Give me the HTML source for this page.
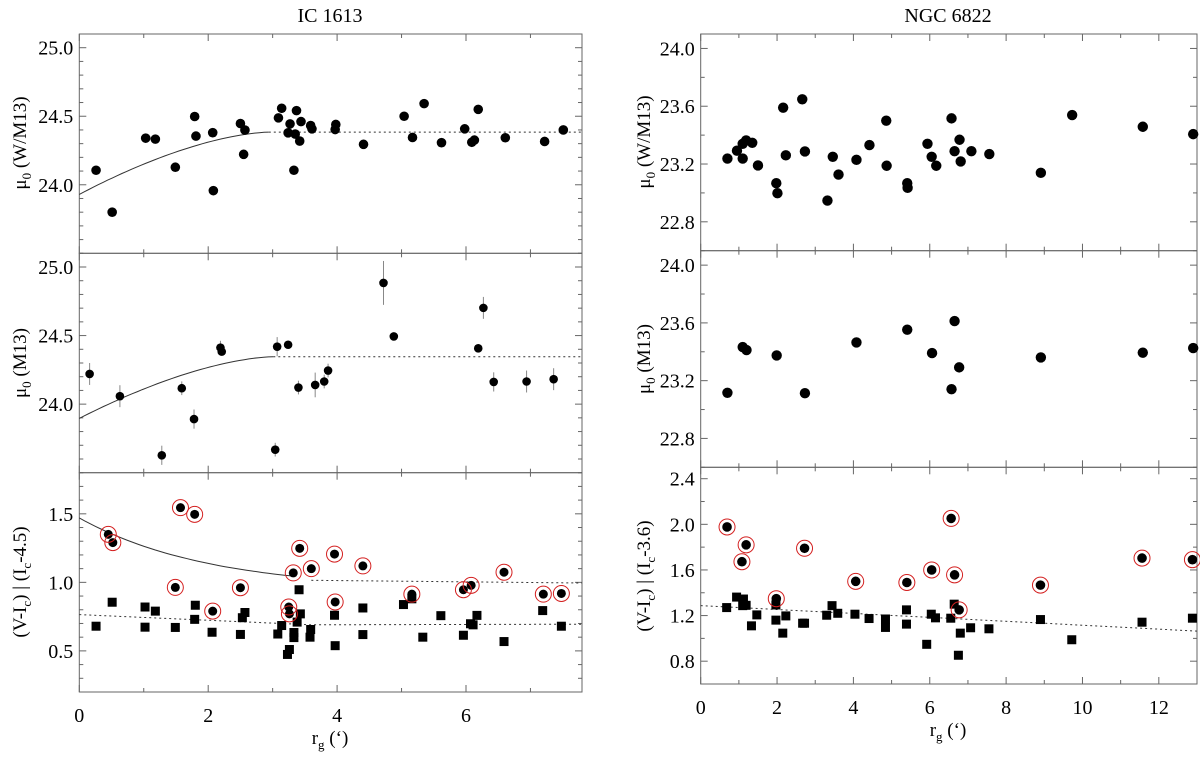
<!DOCTYPE html>
<html><head><meta charset="utf-8"><style>
html,body{margin:0;padding:0;background:#fff}
svg, svg text{font-family:"Liberation Serif","DejaVu Serif",serif}
</style></head><body>
<svg id="fig" width="1200" height="753" viewBox="0 0 1200 753" xmlns="http://www.w3.org/2000/svg" font-family="Liberation Serif, serif">
<text x="330" y="22" font-size="20" text-anchor="middle" font-family="Liberation Serif, serif">IC 1613</text>
<text x="948" y="22" font-size="20" text-anchor="middle" font-family="Liberation Serif, serif">NGC 6822</text>
<g id="plots"></g>
<text transform="translate(26,143) rotate(-90)" font-size="19" text-anchor="middle" font-family="Liberation Serif, serif">μ<tspan font-size="13" dy="5">0</tspan><tspan dy="-5"> (W/M13)</tspan></text>
<text transform="translate(26,363) rotate(-90)" font-size="19" text-anchor="middle" font-family="Liberation Serif, serif">μ<tspan font-size="13" dy="5">0</tspan><tspan dy="-5"> (M13)</tspan></text>
<text transform="translate(26,582) rotate(-90)" font-size="19" text-anchor="middle" font-family="Liberation Serif, serif">(V-I<tspan font-size="13" dy="5">c</tspan><tspan dy="-5">) | (I</tspan><tspan font-size="13" dy="5">c</tspan><tspan dy="-5">-4.5)</tspan></text>
<text transform="translate(650,142) rotate(-90)" font-size="19" text-anchor="middle" font-family="Liberation Serif, serif">μ<tspan font-size="13" dy="5">0</tspan><tspan dy="-5"> (W/M13)</tspan></text>
<text transform="translate(650,359) rotate(-90)" font-size="19" text-anchor="middle" font-family="Liberation Serif, serif">μ<tspan font-size="13" dy="5">0</tspan><tspan dy="-5"> (M13)</tspan></text>
<text transform="translate(650,576) rotate(-90)" font-size="19" text-anchor="middle" font-family="Liberation Serif, serif">(V-I<tspan font-size="13" dy="5">c</tspan><tspan dy="-5">) | (I</tspan><tspan font-size="13" dy="5">c</tspan><tspan dy="-5">-3.6)</tspan></text>
<text x="330" y="744" font-size="19" text-anchor="middle" font-family="Liberation Serif, serif">r<tspan font-size="13" dy="5">g</tspan><tspan dy="-5"> (‘)</tspan></text>
<text x="948" y="736" font-size="19" text-anchor="middle" font-family="Liberation Serif, serif">r<tspan font-size="13" dy="5">g</tspan><tspan dy="-5"> (‘)</tspan></text>
</svg>
<script>
// ---- IC 1613 data ----
const icTopX=[0.26,0.51,1.03,1.18,1.49,1.79,1.81,2.07,2.08,2.50,2.57,2.55,3.09,3.14,3.24,3.27,3.35,3.33,3.37,3.42,3.44,3.59,3.61,3.97,3.98,4.41,5.04,5.17,5.35,5.62,5.98,6.09,6.13,6.19,6.61,7.22,7.51];
const icTopY=[24.106,23.80,24.34,24.333,24.128,24.498,24.355,24.38,23.957,24.447,24.399,24.222,24.488,24.558,24.379,24.444,24.37,24.106,24.541,24.319,24.461,24.432,24.408,24.403,24.44,24.295,24.5,24.345,24.592,24.307,24.408,24.31,24.326,24.55,24.343,24.316,24.40];
const icTopFit=[23.93,2.94,24.384]; // start value, knee radius, plateau
const icMidX=[0.16,0.63,1.28,1.59,1.78,2.19,2.21,3.07,3.04,3.24,3.40,3.66,3.80,3.86,4.72,4.88,6.19,6.27,6.43,6.94,7.36];
const icMidY=[24.22,24.058,23.627,24.116,23.891,24.412,24.383,24.419,23.668,24.433,24.121,24.14,24.165,24.245,24.884,24.494,24.407,24.702,24.162,24.165,24.182];
const icMidErr=[0.08,0.08,0.07,0.05,0.07,0.05,0.03,0.07,0.05,0.02,0.05,0.09,0.05,0.05,0.16,0.02,0.03,0.08,0.07,0.08,0.08];
const icMidFit=[23.896,3.01,24.346];
const icCircX=[0.45,0.52,1.57,1.79,1.49,2.50,2.07,3.42,3.32,3.25,3.26,3.60,3.96,3.97,4.40,5.16,5.96,6.08,6.59,7.20,7.48];
const icCircY=[1.35,1.29,1.545,1.496,0.963,0.961,0.79,1.248,1.069,0.82,0.77,1.10,1.206,0.857,1.12,0.914,0.946,0.978,1.074,0.914,0.919];
const icSqX=[0.26,0.51,1.02,1.18,1.02,1.49,1.80,1.79,2.06,2.50,2.53,2.57,3.08,3.14,3.23,3.26,3.33,3.33,3.38,3.43,3.41,3.59,3.58,3.96,3.97,4.40,4.40,5.03,5.16,5.33,5.61,5.96,6.07,6.11,6.17,6.59,7.19,7.48];
const icSqY=[0.68,0.855,0.82,0.79,0.673,0.671,0.833,0.73,0.636,0.62,0.742,0.78,0.623,0.685,0.474,0.51,0.597,0.634,0.71,0.77,0.946,0.656,0.60,0.76,0.538,0.813,0.619,0.838,0.88,0.60,0.757,0.614,0.698,0.69,0.759,0.568,0.794,0.68];
const icColorFit=[0.945,0.525,2.0,3.35]; // a + b*exp(-x/c), up to x
const icColorDotX=[3.6,7.8];
const icColorDotY=[1.015,0.995];
const icSqLineX=[0,3.6,7.8];
const icSqLineY=[0.765,0.69,0.695];
// ---- NGC 6822 data ----
const ngTopX=[0.70,0.95,1.10,1.10,1.19,1.35,1.50,1.98,2.01,2.16,2.23,2.66,2.73,3.32,3.46,3.61,4.08,4.42,4.86,4.87,5.41,5.42,5.94,6.05,6.17,6.57,6.65,6.78,6.81,7.09,7.56,8.91,9.73,11.58,12.90];
const ngTopY=[23.238,23.292,23.34,23.238,23.363,23.347,23.19,23.067,22.998,23.59,23.26,23.648,23.287,22.947,23.25,23.127,23.229,23.331,23.5,23.188,23.067,23.035,23.34,23.25,23.188,23.516,23.289,23.368,23.218,23.289,23.269,23.139,23.539,23.458,23.407];
const ngMidX=[0.70,1.10,1.20,1.99,2.73,4.08,5.41,6.06,6.57,6.65,6.77,8.91,11.58,12.90];
const ngMidY=[23.116,23.433,23.412,23.375,23.113,23.465,23.553,23.391,23.141,23.613,23.292,23.361,23.394,23.426];
const ngCircX=[0.69,1.08,1.19,2.72,1.98,4.06,5.40,6.05,6.56,6.65,6.77,8.90,11.56,12.88];
const ngCircY=[1.977,1.672,1.82,1.79,1.348,1.50,1.49,1.60,2.052,1.557,1.25,1.467,1.704,1.69];
const ngSqX=[0.68,0.94,1.12,1.10,1.19,1.47,1.33,1.97,1.97,2.23,2.15,2.67,2.72,3.30,3.44,3.59,4.04,4.41,4.84,4.84,5.39,5.39,5.92,6.04,6.15,6.55,6.64,6.75,6.80,7.07,7.55,8.90,9.72,11.56,12.88];
const ngSqY=[1.27,1.362,1.345,1.287,1.29,1.206,1.11,1.293,1.16,1.197,1.046,1.133,1.133,1.203,1.287,1.22,1.212,1.174,1.17,1.096,1.25,1.125,0.948,1.212,1.18,1.177,1.30,0.852,1.046,1.093,1.084,1.165,0.988,1.142,1.177];
const ngLineX=[0,13];
const ngLineY=[1.287,1.064];
// tick labels
const icMuTicks=["24.0","24.5","25.0"];
const icColTicks=["0.5","1.0","1.5"];
const ngMuTicks=["22.8","23.2","23.6","24.0"];
const ngColTicks=["0.8","1.2","1.6","2.0","2.4"];
const icXTicks=["0","2","4","6"];
const ngXTicks=["0","2","4","6","8","10","12"];

const NS="http://www.w3.org/2000/svg";
const FONT="Liberation Serif, DejaVu Serif, serif";
const root=document.getElementById('plots');
function mk(tag,attrs,parent){const e=document.createElementNS(NS,tag);for(const k in attrs)e.setAttribute(k,attrs[k]);(parent||root).appendChild(e);return e;}

function panel(name,px0,px1,py0,py1,xmin,xmax,ymin,ymax){
  const g=mk('g',{});
  
  
  return {g,sx:v=>px0+(v-xmin)/(xmax-xmin)*(px1-px0),sy:v=>py1-(v-ymin)/(ymax-ymin)*(py1-py0),px0,px1,py0,py1,xmin,xmax,ymin,ymax};
}
function frame(p,yMinorStep,yLabels,xMinorStep,xLabels,showX,labelX){
  const c='#666';
  const box=mk('rect',{x:p.px0,y:p.py0,width:p.px1-p.px0,height:p.py1-p.py0,fill:'none',stroke:c,'stroke-width':1},p.g);
  
  
  const y0=Math.ceil(p.ymin/yMinorStep-1e-6);
  for(let i=y0;i*yMinorStep<=p.ymax+1e-6;i++){
    const v=i*yMinorStep, y=p.sy(v);
    const lbl=yLabels.find(s=>Math.abs(parseFloat(s)-v)<1e-6);
    const L=lbl?7:4;
    mk('line',{x1:p.px0,x2:p.px0+L,y1:y,y2:y,stroke:c},p.g);
    mk('line',{x1:p.px1,x2:p.px1-L,y1:y,y2:y,stroke:c},p.g);
    if(lbl){const t=mk('text',{x:p.px0-6,y:y+7,'font-size':20,'text-anchor':'end','font-family':FONT},p.g);t.textContent=lbl;
      
      }
  }
  for(let i=Math.ceil(p.xmin/xMinorStep);i*xMinorStep<=p.xmax+1e-6;i++){
    const v=i*xMinorStep,x=p.sx(v);
    const lbl=xLabels.find(s=>Math.abs(parseFloat(s)-v)<1e-6);
    const L=lbl?7:4;
    mk('line',{x1:x,x2:x,y1:p.py1,y2:p.py1-L,stroke:c},p.g);
    mk('line',{x1:x,x2:x,y1:p.py0,y2:p.py0+L,stroke:c},p.g);
    if(labelX&&lbl){const t=mk('text',{x:x,y:p.py1+30,'font-size':20,'text-anchor':'middle','font-family':FONT},p.g);t.textContent=lbl;
      
      }
  }
}
function dots(p,xs,ys,r,name){
  for(let i=0;i<xs.length;i++){const e=mk('circle',{cx:p.sx(xs[i]),cy:p.sy(ys[i]),r:r,fill:'#000'},p.g);
    
    }
}
function squares(p,xs,ys,s,name){
  for(let i=0;i<xs.length;i++){const e=mk('rect',{x:p.sx(xs[i])-s/2,y:p.sy(ys[i])-s/2,width:s,height:s,fill:'#000'},p.g);
    
    }
}
function rings(p,xs,ys,name){
  for(let i=0;i<xs.length;i++){const e=mk('circle',{cx:p.sx(xs[i]),cy:p.sy(ys[i]),r:8,fill:'none',stroke:'#d42020','stroke-width':1},p.g);
    
    }
}
function errbars(p,xs,ys,es){
  for(let i=0;i<xs.length;i++){const e=mk('line',{x1:p.sx(xs[i]),x2:p.sx(xs[i]),y1:p.sy(ys[i]-es[i]),y2:p.sy(ys[i]+es[i]),stroke:'#888','stroke-width':1},p.g);
    
    }
}
function poly(p,pts,dash,name){
  const d=pts.map((q,i)=>(i?'L':'M')+p.sx(q[0]).toFixed(1)+','+p.sy(q[1]).toFixed(1)).join('');
  const e=mk('path',{d:d,fill:'none',stroke:'#333','stroke-width':1,'stroke-dasharray':dash||'none'},p.g);
  
  
}
function gradFit(p,fit,xmax,name){
  const [y0,k,pl]=fit, pts=[];
  for(let i=0;i<=40;i++){const x=k*i/40;pts.push([x,pl-(pl-y0)*Math.pow(1-x/k,1.6)]);}
  poly(p,pts,null,name+'-solid');
  poly(p,[[k,pl],[xmax,pl]],'2,3',name+'-dotted');
}

const LX0=79.3,LX1=582,RX0=700.7,RX1=1197;
const a=panel('ic1613-wm13-panel',LX0,LX1,34,253.3,0,7.8,23.5,25.1);
frame(a,0.1,icMuTicks,1,icXTicks,true,false);
gradFit(a,icTopFit,7.8,'ic-wm13-fit');
dots(a,icTopX,icTopY,4.8,'ic-wm13-point');

const b=panel('ic1613-m13-panel',LX0,LX1,253.3,472.7,0,7.8,23.5,25.1);
frame(b,0.1,icMuTicks,1,icXTicks,true,false);
gradFit(b,icMidFit,7.8,'ic-m13-fit');
errbars(b,icMidX,icMidY,icMidErr);
dots(b,icMidX,icMidY,4.3,'ic-m13-point');

const c=panel('ic1613-color-panel',LX0,LX1,472.7,692,0,7.8,0.2,1.8);
frame(c,0.1,icColTicks,1,icXTicks,true,true);
(function(){const [A,B,C,X]=icColorFit,pts=[];for(let i=0;i<=40;i++){const x=X*i/40;pts.push([x,A+B*Math.exp(-x/C)]);}poly(c,pts,null,'ic-color-fit-solid');})();
poly(c,icColorDotX.map((x,i)=>[x,icColorDotY[i]]),'2,3','ic-color-fit-dotted');
poly(c,icSqLineX.map((x,i)=>[x,icSqLineY[i]]),'2,3','ic-square-fit-dotted');
squares(c,icSqX,icSqY,9,'ic-color-square');
dots(c,icCircX,icCircY,4.5,'ic-color-circle');
rings(c,icCircX,icCircY,'ic-color-ring');

const d=panel('ngc6822-wm13-panel',RX0,RX1,34,250.7,0,13,22.6,24.1);
frame(d,0.2,ngMuTicks,1,ngXTicks,true,false);
dots(d,ngTopX,ngTopY,5.2,'ngc-wm13-point');

const e=panel('ngc6822-m13-panel',RX0,RX1,250.7,467.3,0,13,22.6,24.1);
frame(e,0.2,ngMuTicks,1,ngXTicks,true,false);
dots(e,ngMidX,ngMidY,5.2,'ngc-m13-point');

const f=panel('ngc6822-color-panel',RX0,RX1,467.3,684,0,13,0.6,2.5);
frame(f,0.2,ngColTicks,1,ngXTicks,true,true);
poly(f,ngLineX.map((x,i)=>[x,ngLineY[i]]),'2,3','ngc-square-fit-dotted');
squares(f,ngSqX,ngSqY,9,'ngc-color-square');
dots(f,ngCircX,ngCircY,4.8,'ngc-color-circle');
rings(f,ngCircX,ngCircY,'ngc-color-ring');
</script>
</body></html>
